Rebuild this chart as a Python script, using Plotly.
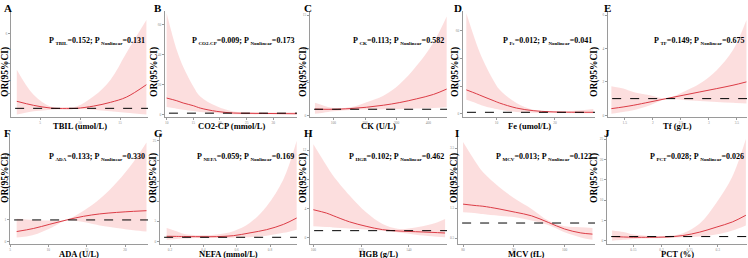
import plotly.graph_objects as go

W, H = 748, 258

# ---------------- data ----------------
letters = ["A", "B", "C", "D", "E", "F", "G", "H", "I", "J"]
x_titles = ["TBIL (umol/L)", "CO2-CP (mmol/L)", "CK (U/L)", "Fe (umol/L)", "Tf (g/L)",
            "ADA (U/L)", "NEFA (mmol/L)", "HGB (g/L)", "MCV (fL)", "PCT (%)"]
var_sub = ["TBIL", "CO2-CP", "CK", "Fe", "TF", "ADA ", "NEFA", "HGB", "MCV", "PCT"]
p_overall = ["0.152", "0.009", "0.113", "0.012", "0.149", "0.133", "0.059", "0.102", "0.013", "0.028"]
p_nonlinear = ["0.131", "0.173", "0.582", "0.041", "0.675", "0.330", "0.169", "0.462", "0.122", "0.026"]

tbil_x = [2.1, 4.2, 6.3, 8.3, 9.6, 11.7, 13.8, 15.8, 18.3]
tbil_or = [1.47, 1.2, 1.02, 0.98, 1.0, 1.15, 1.4, 1.75, 2.58]
tbil_lo = [0.58, 0.8, 0.91, 0.96, 0.96, 0.91, 0.8, 0.7, 0.58]
tbil_hi = [3.58, 1.9, 1.13, 1.09, 1.13, 1.8, 2.9, 4.7, 6.9]

co2_x = [10, 11.9, 13.1, 15, 16.3, 19.4, 22.5, 25.6, 28.8, 34.4]
co2_or = [11.1, 9.3, 7.8, 6.0, 4.4, 2.2, 1.1, 0.9, 0.8, 0.6]
co2_lo = [5.1, 4.0, 3.3, 2.4, 1.8, 0.9, 0.3, 0.2, 0.2, 0.2]
co2_hi = [67.8, 43, 32, 18.9, 12.2, 5.6, 2.2, 1.55, 1.5, 1.55]

ck_x = [42, 68, 100, 153, 205, 258, 310, 363, 416, 458]
ck_or = [1.03, 1.0, 1.0, 1.1, 1.3, 1.6, 2.0, 2.55, 3.2, 4.0]
ck_lo = [0.34, 0.5, 0.7, 0.9, 0.95, 1.0, 1.05, 1.1, 1.2, 1.3]
ck_hi = [1.96, 1.57, 1.2, 1.3, 2.06, 3.0, 4.75, 7.45, 10.9, 14.8]

fe_x = [4.86, 6.57, 7.71, 9.43, 10.57, 13.43, 16.29, 19.14, 22.0, 26.57]
fe_or = [17.3, 14.5, 12.5, 9.6, 7.7, 4.1, 2.2, 1.4, 1.1, 1.0]
fe_lo = [10.1, 7.6, 5.8, 3.9, 2.9, 1.2, 0.7, 0.5, 0.5, 0.3]
fe_hi = [72.8, 51, 39, 24.6, 17.3, 7.7, 2.9, 1.7, 1.7, 3.4]

tf_x = [1.26, 1.47, 1.65, 1.95, 2.24, 2.54, 2.84, 3.14, 3.43, 3.67]
tf_or = [0.4, 0.5, 0.6, 0.8, 1.0, 1.2, 1.4, 1.6, 1.8, 2.0]
tf_lo = [0.1, 0.2, 0.3, 0.6, 0.97, 0.92, 0.85, 0.8, 0.75, 0.7]
tf_hi = [1.74, 1.6, 1.4, 1.2, 1.02, 1.4, 1.9, 2.7, 3.9, 5.7]

ada_x = [5.87, 8.04, 10.2, 12.4, 14.6, 16.7, 18.9, 21.1, 22.8]
ada_or = [0.46, 0.6, 0.8, 1.0, 1.17, 1.28, 1.35, 1.4, 1.43]
ada_lo = [0.18, 0.3, 0.6, 0.97, 0.9, 0.74, 0.62, 0.52, 0.46]
ada_hi = [1.05, 1.0, 0.97, 1.02, 1.43, 1.97, 2.74, 3.7, 4.6]

nefa_x = [0.18, 0.24, 0.28, 0.38, 0.48, 0.58, 0.68, 0.78, 0.88, 0.96]
nefa_or = [1.25, 1.22, 1.2, 1.15, 1.17, 1.4, 2.1, 2.9, 4.2, 5.8]
nefa_lo = [0.4, 0.55, 0.67, 0.83, 0.83, 0.9, 1.0, 1.4, 2.1, 2.9]
nefa_hi = [3.3, 2.5, 1.9, 1.5, 1.7, 2.5, 4.6, 8.75, 15.4, 25]

hgb_x = [100, 105.5, 108.3, 115.2, 122.1, 129, 135.9, 142.8, 149.7, 155.2]
hgb_or = [3.86, 3.4, 3.05, 2.2, 1.6, 1.14, 0.95, 0.86, 0.77, 0.68]
hgb_lo = [1.6, 1.5, 1.45, 1.3, 1.15, 1.0, 0.75, 0.45, 0.25, 0.1]
hgb_hi = [12.8, 9.9, 8.5, 5.8, 3.5, 1.9, 1.23, 1.45, 1.9, 2.6]

mcv_x = [80, 82.6, 83.9, 87.1, 90.3, 93.5, 96.8, 100, 103.2, 105.5]
mcv_or = [1.63, 1.58, 1.56, 1.47, 1.36, 1.24, 1.02, 0.8, 0.67, 0.63]
mcv_lo = [1.36, 1.33, 1.3, 1.24, 1.19, 1.08, 0.93, 0.69, 0.52, 0.44]
mcv_hi = [3.7, 3.0, 2.7, 2.2, 1.8, 1.47, 1.08, 0.89, 0.86, 0.83]

pct_x = [0.112, 0.132, 0.15, 0.179, 0.209, 0.238, 0.268, 0.297, 0.326, 0.35]
pct_or = [1.0, 0.9, 0.83, 0.83, 0.9, 1.25, 2.1, 3.3, 4.6, 6.25]
pct_lo = [0.0, 0.2, 0.42, 0.58, 0.67, 0.83, 1.0, 1.5, 2.5, 3.75]
pct_hi = [2.5, 2.1, 1.5, 1.17, 1.17, 1.83, 4.2, 9.2, 15.8, 25]

series = [
    (tbil_x, tbil_or, tbil_lo, tbil_hi),
    (co2_x, co2_or, co2_lo, co2_hi),
    (ck_x, ck_or, ck_lo, ck_hi),
    (fe_x, fe_or, fe_lo, fe_hi),
    (tf_x, tf_or, tf_lo, tf_hi),
    (ada_x, ada_or, ada_lo, ada_hi),
    (nefa_x, nefa_or, nefa_lo, nefa_hi),
    (hgb_x, hgb_or, hgb_lo, hgb_hi),
    (mcv_x, mcv_or, mcv_lo, mcv_hi),
    (pct_x, pct_or, pct_lo, pct_hi),
]

x_ticks = [[5, 10, 15], [10, 15, 20, 25, 30], [100, 200, 300, 400], [10, 20], [1.5, 2, 2.5, 3, 3.5],
           [5, 10, 15, 20], [0.2, 0.4, 0.6, 0.8], [100, 120, 140], [80, 90, 100], [0.15, 0.2, 0.25, 0.3]]
y_ticks = [[2, 4, 6], [0, 20, 40, 60], [0, 5, 10, 15], [0, 20, 40, 60], [0, 2, 4, 6],
           [0, 1, 2, 3, 4], [0, 5, 10, 15, 20, 25], [0, 4, 8, 12], [0.5, 1.5, 2.5, 3.5], [0, 5, 10, 15, 20, 25]]

# ---------------- layout config ----------------
x_ranges = [[1.375, 18.5], [9.69, 34.44], [26.3, 459], [4.29, 26.86], [1.20, 3.68],
            [5, 23], [0.14, 0.962], [98.6, 156], [79.0, 106], [0.103, 0.352]]
y_ranges = [[0.42, 7.51], [-1.56, 69.3], [-0.15, 15.6], [-2.4, 74.5], [-0.1, 6.24],
            [-0.12, 5.0], [-0.67, 26.7], [-0.82, 14.2], [0.3, 3.97], [-0.83, 26.25]]

cols_px = [(11, 148), (165, 297), (310, 447), (463, 595), (608, 747),
           (10, 148), (160, 297), (310, 447), (458, 595), (607, 747)]
rows_px = [(11, 117), (134, 244)]
letter_px = [(2, 0), (152, 0), (302, 0), (452, 0), (602, 0),
             (2, 125), (152, 125), (302, 125), (453, 125), (602, 125)]
ytitle_px = [5, 154, 303, 455, 594, 5, 153, 303, 454, 594]
ytitle_cy = [72, 178]
xtitle_cy = [126, 253.5]
ptext_cy = [41, 157]

SERIF = "Liberation Serif, Times New Roman, serif"
BAND = "rgba(245,160,160,0.35)"
LINE = "#DC3C46"
AX = "#9a9a9a"


def fx(px):
    return px / W


def fy(py):
    return 1 - py / H


fig = go.Figure()
layout = dict(
    width=W, height=H, margin=dict(l=0, r=0, t=0, b=0),
    paper_bgcolor="white", plot_bgcolor="white", showlegend=False,
    font=dict(family=SERIF, color="black"),
)
annotations = []
shapes = []

for i in range(10):
    n = "" if i == 0 else str(i + 1)
    xs, ors, los, his = series[i]
    row = 0 if i < 5 else 1
    l, r = cols_px[i]
    t, b = rows_px[row]

    fig.add_trace(go.Scatter(x=xs, y=his, mode="lines", line=dict(width=0, shape="spline", color=BAND),
                             xaxis="x" + n, yaxis="y" + n, hoverinfo="skip"))
    fig.add_trace(go.Scatter(x=xs, y=los, mode="lines", fill="tonexty", fillcolor=BAND,
                             line=dict(width=0, shape="spline", color=BAND),
                             xaxis="x" + n, yaxis="y" + n, hoverinfo="skip"))
    fig.add_trace(go.Scatter(x=xs, y=ors, mode="lines", line=dict(width=1, shape="spline", color=LINE),
                             xaxis="x" + n, yaxis="y" + n))

    common = dict(showgrid=False, zeroline=False, showline=True, linecolor=AX, linewidth=1,
                  ticks="outside", ticklen=2, tickcolor=AX, tickwidth=1,
                  tickfont=dict(size=3.5, color="#8a8a8a", family=SERIF))
    layout["xaxis" + n] = dict(domain=[fx(l), fx(r)], range=x_ranges[i], anchor="y" + n,
                               tickvals=x_ticks[i], **common)
    layout["yaxis" + n] = dict(domain=[fy(b), fy(t)], range=y_ranges[i], anchor="x" + n,
                               tickvals=y_ticks[i], **common)

    shapes.append(dict(type="line", xref="x" + n + " domain", yref="y" + n, x0=0.03, x1=1, y0=1, y1=1,
                       line=dict(color="black", width=1, dash="dash"), layer="above"))

    lx, ly = letter_px[i]
    annotations.append(dict(text="<b>" + letters[i] + "</b>", xref="paper", yref="paper",
                            x=fx(lx), y=fy(ly), xanchor="left", yanchor="top", showarrow=False,
                            font=dict(size=11, family=SERIF)))
    annotations.append(dict(text="<b>OR(95%CI)</b>", xref="paper", yref="paper", textangle=-90,
                            x=fx(ytitle_px[i]), y=fy(ytitle_cy[row]), xanchor="center", yanchor="middle",
                            showarrow=False, font=dict(size=9.5, family=SERIF)))
    annotations.append(dict(text="<b>" + x_titles[i] + "</b>", xref="paper", yref="paper",
                            x=fx((l + r) / 2), y=fy(xtitle_cy[row]), xanchor="center", yanchor="middle",
                            showarrow=False, font=dict(size=8.5, family=SERIF)))
    ptxt = ("<b>P <sub><span style='font-size:5px'>" + var_sub[i] + "</span></sub>=" + p_overall[i] +
            "; P <sub><span style='font-size:5px'>Nonlinear</span></sub>=" + p_nonlinear[i] + "</b>")
    annotations.append(dict(text=ptxt, xref="paper", yref="paper",
                            x=fx(r - 1), y=fy(ptext_cy[row]), xanchor="right", yanchor="middle",
                            showarrow=False, font=dict(size=8, family=SERIF)))

layout["annotations"] = annotations
layout["shapes"] = shapes
fig.update_layout(**layout)
fig.write_html("out.html", config={"displayModeBar": False},
               post_script="document.body.style.margin='0';document.body.style.overflow='hidden';")
